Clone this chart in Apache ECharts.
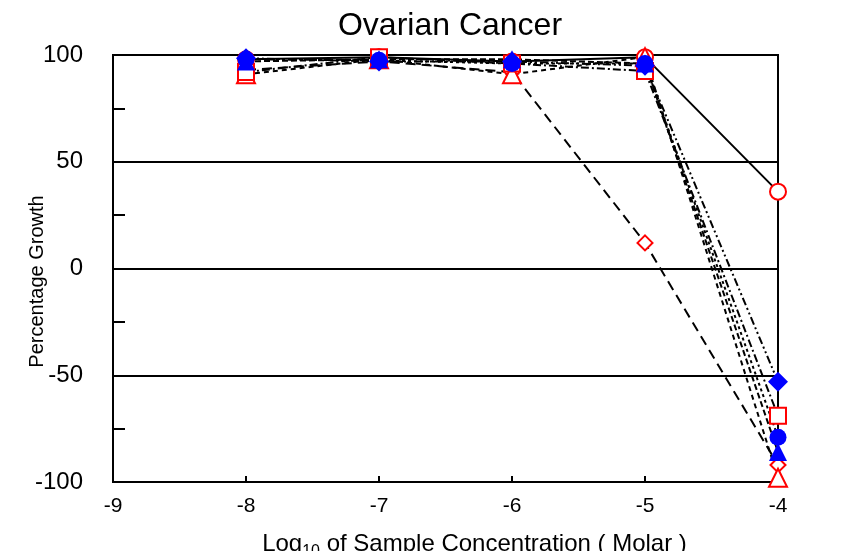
<!DOCTYPE html>
<html>
<head>
<meta charset="utf-8">
<script src="https://cdn.jsdelivr.net/npm/echarts@6/dist/echarts.min.js"></script>
<style>html,body{margin:0;padding:0;background:#fff;}#c{width:855px;height:551px;}</style>
</head>
<body>
<div id="c"></div>
<script>
const concentrations = [-8, -7, -6, -5, -4];
const redCircle   = [98, 99, 97, 99, 36];
const redDiamond  = [93, 97, 92, 12, -92];
const redTriangle = [91, 98, 91, 99, -98];
const redSquare   = [92, 99, 96, 92.5, -69];
const blueDiamond = [98.5, 97, 97, 95, -53];
const blueCircle  = [98, 97.5, 96, 96, -79];
const blueTriangle= [97, 98, 98, 96, -86];
const yTicks = [-100, -50, 0, 50, 100];
const xTicks = [-9, -8, -7, -6, -5, -4];

function pts(vals){ return concentrations.map((c,i)=>[c, vals[i]]); }
const RED='#ff0000', BLUE='#0000ff';
function ser(vals, symbol, size, color, filled, dash){
  return {
    type:'line', data: pts(vals), symbol: symbol, symbolSize: size,
    showAllSymbol: true,
    lineStyle:{color:'#000', width:2, type: dash},
    itemStyle: filled ? {color: color, borderColor: color, borderWidth: 0}
                      : {color: '#fff', borderColor: color, borderWidth: 2},
    emphasis:{disabled:true}, animation:false
  };
}
const chart = echarts.init(document.getElementById('c'));
chart.setOption({
  backgroundColor:'#fff',
  animation:false,
  title:{text:'Ovarian Cancer', left:445, textAlign:'center', top:5,
    textStyle:{fontFamily:'Liberation Sans', fontSize:32, fontWeight:'normal', color:'#000'}},
  grid:{left:113, right:77, top:55, bottom:69, show:true, borderColor:'#000', borderWidth:2,
    backgroundColor:'transparent', containLabel:false, outerBoundsMode:'none'},
  xAxis:{type:'value', min:-9, max:-4, interval:1,
    axisLine:{onZero:false, lineStyle:{color:'#000', width:2}},
    axisTick:{inside:true, length:6, lineStyle:{color:'#000', width:2}},
    splitLine:{show:false},
    axisLabel:{color:'#000', fontFamily:'Liberation Sans', fontSize:21, margin:14,
      formatter: v => xTicks.includes(v) ? String(v) : ''},
    name:'{a|Log}{s|10}{a| of Sample Concentration ( Molar )}', nameLocation:'middle', nameGap:46,
    nameMoveOverlap:false,
    nameTextStyle:{padding:[0,0,0,58], rich:{a:{fontFamily:'Liberation Sans', fontSize:24, color:'#000'},
      s:{fontFamily:'Liberation Sans', fontSize:16, color:'#000', padding:[16,0,0,0]}}}
  },
  yAxis:{type:'value', min:-100, max:100, interval:50,
    axisLine:{onZero:false, lineStyle:{color:'#000', width:2}},
    axisTick:{inside:true, length:12, lineStyle:{color:'#000', width:2}},
    minorTick:{show:true, splitNumber:2, length:12, lineStyle:{color:'#000', width:2}},
    splitLine:{show:true, lineStyle:{color:'#000', width:2}},
    axisLabel:{color:'#000', fontFamily:'Liberation Sans', fontSize:24, margin:30,
      formatter: v => yTicks.includes(v) ? String(v) : ''},
    name:'Percentage Growth', nameLocation:'middle', nameGap:66, nameMoveOverlap:false,
    nameTextStyle:{fontFamily:'Liberation Sans', fontSize:20, color:'#000', padding:[0,26,0,0]}
  },
  series:[
    ser(redCircle, 'circle', 16, RED, false, 'solid'),
    ser(redDiamond, 'diamond', 15, RED, false, [10,6]),
    ser(redTriangle, 'triangle', 18, RED, false, [5,4]),
    ser(redSquare, 'rect', 16, RED, false, [8,3,2,3]),
    ser(blueDiamond, 'diamond', 20, BLUE, true, [8,3,2,3,2,3]),
    ser(blueCircle, 'circle', 17, BLUE, true, [3,3]),
    ser(blueTriangle, 'triangle', 18, BLUE, true, [6,3])
  ]
});
</script>
</body>
</html>
